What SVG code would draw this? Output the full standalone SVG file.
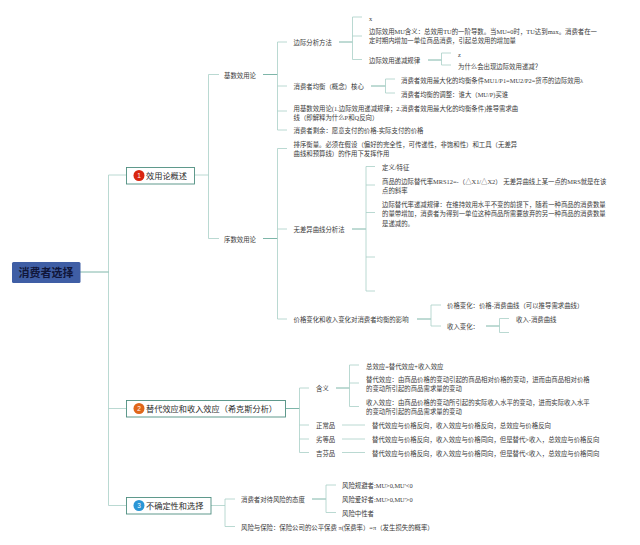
<svg xmlns="http://www.w3.org/2000/svg" width="640" height="545" viewBox="0 0 640 545">
<style>
text{font-family:"Liberation Serif","Noto Sans CJK SC",serif;dominant-baseline:central}
.t{font-size:6.4px;fill:#3a3a3a}
.n{font-size:8.2px;fill:#2c2c2c}
.c{fill:none;stroke:#a8cfc6;stroke-width:.8}
.s{fill:none;stroke:#6fae9f;stroke-width:.9}
.b{fill:#fff;stroke:#4f8f80;stroke-width:.9}
.m{font-size:6.5px;fill:#fff;text-anchor:middle;font-family:"Liberation Sans",sans-serif}
</style>
<rect width="640" height="545" fill="#fff"/>
<g id="connectors">
<path class="c" d="M126 175H108.500V505.500H126M108.500 408.500H126"/>
<path class="s" d="M80 272H108.500"/>
<path class="c" d="M219 74.500H208.500V238.500H219M194.500 175H208.500"/>
<path class="s" d="M263 74.500H277.500M263 238.500H277.500"/>
<path class="c" d="M287 42H277.500V130H287M277.500 86H287M277.500 111H287"/>
<path class="c" d="M287 148.500H277.500V319H287M277.500 229H287"/>
<path class="s" d="M339 42H352.500"/>
<path class="c" d="M362 17H352.500V59.500H362M352.500 36H362"/>
<path class="s" d="M428 60H441.500"/>
<path class="c" d="M451 53H441.500V65H451"/>
<path class="s" d="M371 86H385.500"/>
<path class="c" d="M395 79H385.500V93H395"/>
<path class="s" d="M352 229H366"/>
<path class="c" d="M375 166.500H366V291H375M366 185H375M366 212.500H375M366 257H375"/>
<path class="s" d="M417 319H431"/>
<path class="c" d="M441 305H431V326H441"/>
<path class="s" d="M486 326H499.500"/>
<path class="c" d="M509 318.500H499.500V332.500H509"/>
<path class="s" d="M285.500 408.500H299.500"/>
<path class="c" d="M309 388H299.500V452.500H309M299.500 425H309M299.500 439H309"/>
<path class="s" d="M336 388H349.500"/>
<path class="c" d="M359 365H349.500V406.500H359M349.500 383H359"/>
<path class="c" d="M342 425H365M342 439H365M342 452.500H365"/>
<path class="c" d="M211 505.500H225M235 499H225V526.500H235"/>
<path class="s" d="M312 499H326"/>
<path class="c" d="M336 485H326V512.500H336"/>
</g>
<g id="root"><rect x="12" y="262" width="68.500" height="21" rx="1.500" fill="#3f5ea5"/><text x="46" y="273" text-anchor="middle" style="font-size:11px;font-weight:700;fill:#10163a">消费者选择</text></g>
<g id="n1"><rect class="b" x="126.500" y="167.500" width="68" height="16.500"/><circle cx="139" cy="175.500" r="5.500" fill="#d9260f"/><text class="m" x="139" y="175.500">1</text><text class="n" x="146" y="176">效用论概述</text></g>
<g id="n2"><rect class="b" x="126.500" y="400.500" width="159" height="16.500"/><circle cx="139" cy="408.500" r="5.500" fill="#e0661a"/><text class="m" x="139" y="408.500">2</text><text class="n" x="146" y="409">替代效应和收入效应（希克斯分析）</text></g>
<g id="n3"><rect class="b" x="126.500" y="497.500" width="84.500" height="16.500"/><circle cx="139" cy="505.500" r="5.500" fill="#2b96d6"/><text class="m" x="139" y="505.500">3</text><text class="n" x="146" y="506">不确定性和选择</text></g>
<g id="labels" class="t">
<g id="a1"><text class="t" x="224" y="75">基数效用论</text></g>
<g id="a2"><text class="t" x="224" y="239">序数效用论</text></g>
<g id="a3"><text class="t" x="293.500" y="42.500">边际分析方法</text></g>
<g id="a4"><text class="t" x="369" y="18.500">x</text></g>
<g id="a5"><text class="t" x="369" y="31">边际效用MU含义：总效用TU的一阶导数。当MU=0时，TU达到max。消费者在一</text><text class="t" x="369" y="40.500">定时期内增加一单位商品消费，引起总效用的增加量</text></g>
<g id="a6"><text class="t" x="369" y="60">边际效用递减规律</text></g>
<g id="a7"><text class="t" x="458" y="54">z</text></g>
<g id="a8"><text class="t" x="458" y="66">为什么会出现边际效用递减？</text></g>
<g id="a9"><text class="t" x="293.500" y="86.500">消费者均衡（概念）核心</text></g>
<g id="a10"><text class="t" x="401" y="80">消费者效用最大化的均衡条件MU1/P1=MU2/P2=货币的边际效用λ</text></g>
<g id="a11"><text class="t" x="401" y="94">消费者均衡的调整：谁大（MU/P)买谁</text></g>
<g id="a12"><text class="t" x="293.500" y="108">用基数效用论(1.边际效用递减规律；2.消费者效用最大化的均衡条件)推导需求曲</text><text class="t" x="293.500" y="117">线（即解释为什么P和Q反向）</text></g>
<g id="a13"><text class="t" x="293.500" y="130.500">消费者剩余：愿意支付的价格-实际支付的价格</text></g>
<g id="a14"><text class="t" x="293.500" y="144.500">排序衡量。必须在假设（偏好的完全性，可传递性，非饱和性）和工具（无差异</text><text class="t" x="293.500" y="153.500">曲线和预算线）的作用下发挥作用</text></g>
<g id="a15"><text class="t" x="293.500" y="229.500">无差异曲线分析法</text></g>
<g id="a16"><text class="t" x="382" y="167.500">定义/特征</text></g>
<g id="a17"><text class="t" x="382" y="181">商品的边际替代率MRS12=-（△X1/△X2） 无差异曲线上某一点的MRS就是在该</text><text class="t" x="382" y="190.500">点的斜率</text></g>
<g id="a18"><text class="t" x="382" y="204.500">边际替代率递减规律：在维持效用水平不变的前提下，随着一种商品的消费数量</text><text class="t" x="382" y="213.500">的量带增加，消费者为得到一单位这种商品所需要放弃的另一种商品的消费数量</text><text class="t" x="382" y="223">是递减的。</text></g>
<g id="a19"><text class="t" x="293.500" y="319.500">价格变化和收入变化对消费者均衡的影响</text></g>
<g id="a20"><text class="t" x="447" y="305.500">价格变化：价格-消费曲线（可以推导需求曲线）</text></g>
<g id="a21"><text class="t" x="447" y="326.500">收入变化：</text></g>
<g id="a22"><text class="t" x="516" y="319.500">收入-消费曲线</text></g>
<g id="b1"><text class="t" x="316" y="388.500">含义</text></g>
<g id="b2"><text class="t" x="366" y="366">总效应=替代效应+收入效应</text></g>
<g id="b3"><text class="t" x="366" y="379.500">替代效应：由商品价格的变动引起的商品相对价格的变动，进而由商品相对价格</text><text class="t" x="366" y="388.500">的变动所引起的商品需求量的变动</text></g>
<g id="b4"><text class="t" x="366" y="402.500">收入效应：由商品价格的变动所引起的实际收入水平的变动，进而实际收入水平</text><text class="t" x="366" y="411.500">的变动所引起的商品需求量的变动</text></g>
<g id="b5"><text class="t" x="316" y="425.500">正常品</text><text class="t" x="372" y="425.500">替代效应与价格反向，收入效应与价格反向，总效应与价格反向</text></g>
<g id="b6"><text class="t" x="316" y="439">劣等品</text><text class="t" x="372" y="439">替代效应与价格反向，收入效应与价格同向，但是替代&gt;收入，总效应与价格反向</text></g>
<g id="b7"><text class="t" x="316" y="453">吉芬品</text><text class="t" x="372" y="453">替代效应与价格反向，收入效应与价格同向，但是替代&lt;收入，总效应与价格同向</text></g>
<g id="c1"><text class="t" x="241" y="499.500">消费者对待风险的态度</text></g>
<g id="c2"><text class="t" x="342" y="485.500">风险规避者:MU&gt;0,MU'&lt;0</text></g>
<g id="c3"><text class="t" x="342" y="499.500">风险爱好者:MU&gt;0,MU'&gt;0</text></g>
<g id="c4"><text class="t" x="342" y="513">风险中性者</text></g>
<g id="c5"><text class="t" x="241" y="527">风险与保险：保险公司的公平保费 π(保费率）=π（发生损失的概率）</text></g>
</g>
</svg>
